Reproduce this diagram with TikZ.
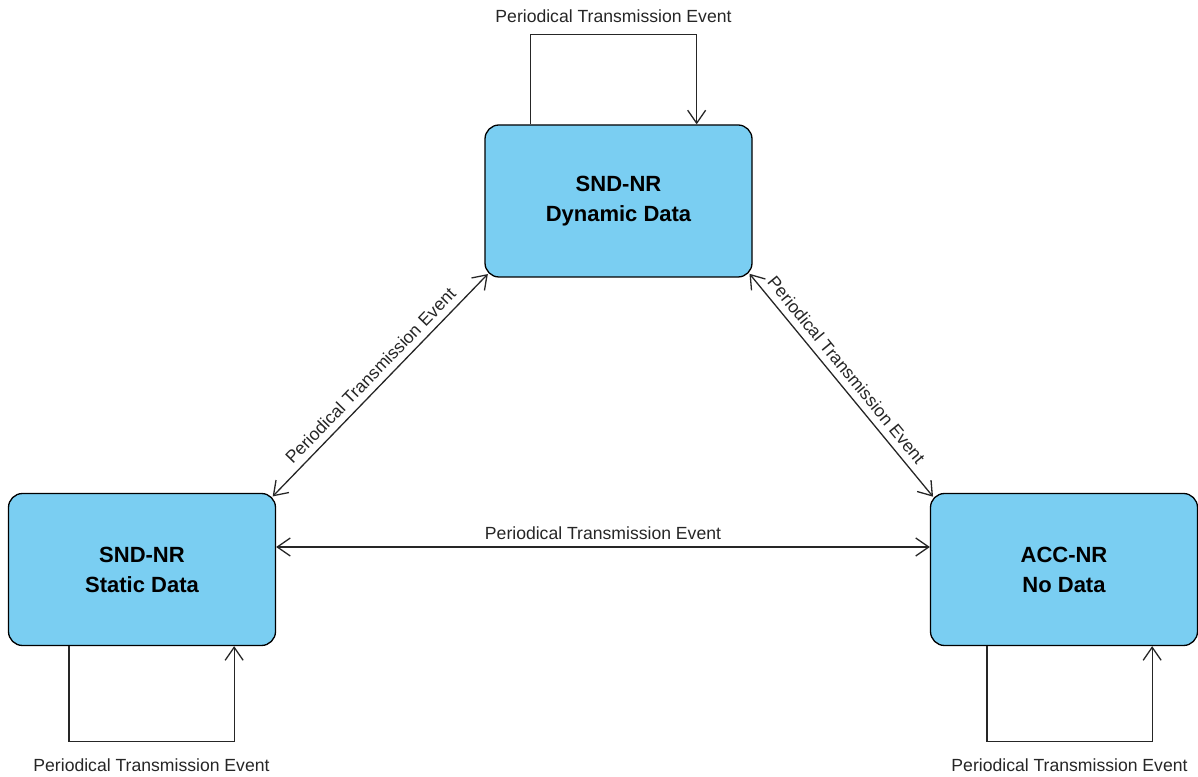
\documentclass[tikz,border=0pt]{standalone}
\usepackage{fontspec}
\setmainfont{Liberation Sans}
\usepackage{tikz}
\usetikzlibrary{arrows.meta}

\definecolor{stateblue}{RGB}{122,206,242}

\begin{document}
\begin{tikzpicture}[
  x=0.5pt, y=0.5pt,
  state/.style={draw=black, fill=stateblue, rounded corners=7pt, line width=0.65pt,
    minimum width=133.5pt, minimum height=76pt, align=center,
    font=\fontsize{11}{15}\selectfont\bfseries},
  trans/.style={line width=0.65pt, draw=black!85},
  evt/.style={font=\fontsize{8.8}{10.5}\selectfont, text=black!85},
  tip/.style={-{Straight Barb[length=6.5pt, width=9pt, line width=0.65pt]}},
  tips/.style={{Straight Barb[length=6.5pt, width=9pt, line width=0.65pt]}-{Straight Barb[length=6.5pt, width=9pt, line width=0.65pt]}}
]
\useasboundingbox (0,0) rectangle (1198,776);

\node[state] (dyn) at (618.5,575) {SND-NR\\Dynamic Data};
\node[state] (stat) at (142,206.5) {SND-NR\\Static Data};
\node[state] (acc) at (1064,206.5) {ACC-NR\\No Data};

\draw[trans, tip] ([xshift=23pt]dyn.north west) -- ++(0,90) -| ([xshift=-28pt]dyn.north east)
  node[evt, pos=0.25, above=2pt] {Periodical Transmission Event};
\draw[trans, tip] ([xshift=30.5pt]stat.south west) -- ++(0,-95) -| ([xshift=-21pt]stat.south east)
  node[evt, pos=0.25, below=5pt] {Periodical Transmission Event};
\draw[trans, tip] ([xshift=28.5pt]acc.south west) -- ++(0,-95) -| ([xshift=-23pt]acc.south east)
  node[evt, pos=0.25, below=5pt] {Periodical Transmission Event};

\draw[trans, tips, line width=1pt] ([yshift=11.25pt]stat.east) -- ([yshift=11.25pt]acc.west)
  node[evt, midway, above] {Periodical Transmission Event};
\draw[trans, tips, shorten <=-2.5pt, shorten >=-2.5pt] (stat.north east) -- (dyn.south west)
  node[evt, midway, sloped, above] {Periodical Transmission Event};
\draw[trans, tips, shorten <=-2.5pt, shorten >=-2.5pt] (dyn.south east) -- (acc.north west)
  node[evt, pos=0.47, sloped, above] {Periodical Transmission Event};
\end{tikzpicture}
\end{document}
